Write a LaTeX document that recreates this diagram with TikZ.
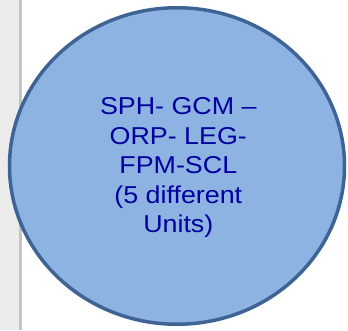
\documentclass[tikz,border=0pt]{standalone}
\usepackage{fontspec}
\setmainfont{Liberation Sans}
\usetikzlibrary{shapes.geometric}
\definecolor{stripgray}{HTML}{EBEBEB}
\definecolor{stripline}{HTML}{C4C4C4}
\definecolor{bubblefill}{HTML}{8DB3E2}
\definecolor{bubbleedge}{HTML}{3D6494}
\definecolor{bubbletext}{HTML}{00009C}
\tikzset{
  bubble/.style={ellipse, draw=bubbleedge, fill=bubblefill, line width=3.5pt,
    minimum width=335pt, minimum height=316.5pt, inner sep=0pt},
  bubblelabel/.style={text=bubbletext, align=center, inner sep=0pt,
    xscale=1.1, transform shape,
    font=\fontsize{24.4pt}{29.5pt}\selectfont}
}
\begin{document}
\begin{tikzpicture}[x=1pt,y=1pt]
\useasboundingbox (0,0) rectangle (348,330);
\fill[white] (0,0) rectangle (348,330);
\fill[stripgray] (0,0) rectangle (18.5,330);
\fill[stripline] (18.5,0) rectangle (21.5,330);
\node[bubble] (unit) at (177,164) {};
\node[bubblelabel] (txt) at (178.3,162.3) {SPH- GCM –\\ORP- LEG-\\FPM-SCL\\(5 different\\Units)};
\end{tikzpicture}
\end{document}
